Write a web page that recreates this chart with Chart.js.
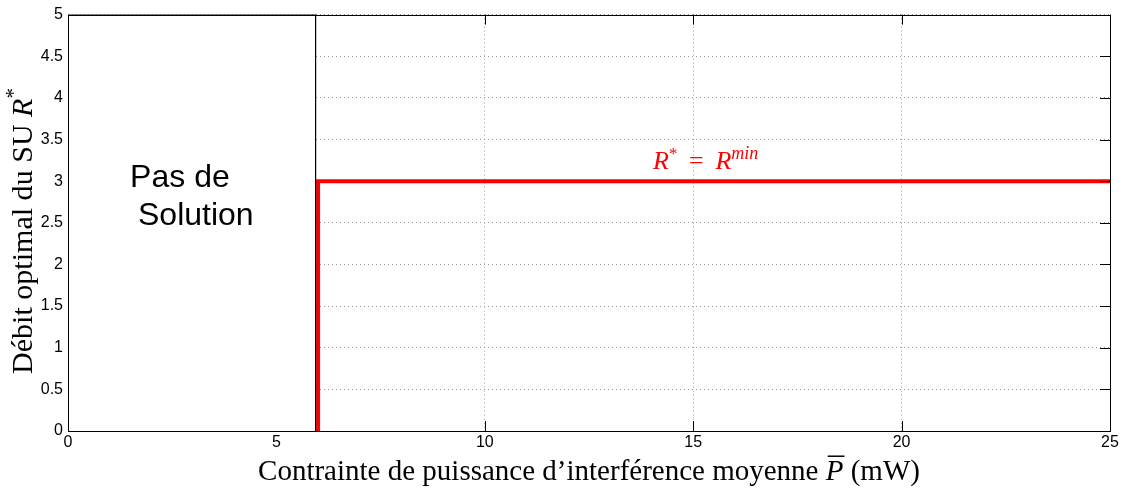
<!DOCTYPE html>
<html>
<head>
<meta charset="utf-8">
<script src="https://cdn.jsdelivr.net/npm/chart.js@4/dist/chart.umd.min.js"></script>
<style>
  html, body { margin: 0; padding: 0; background: #fff; }
  #wrap { width: 1124px; height: 491px; }
</style>
</head>
<body>
<div id="wrap"><canvas id="chart" width="1124" height="491"></canvas></div>
<script>
// values
const xTicks = [0, 5, 10, 15, 20, 25];
const yTicks = [0, 0.5, 1, 1.5, 2, 2.5, 3, 3.5, 4, 4.5, 5];
const stepX = [6, 6, 25];          // optimal rate R*
const stepY = [0, 3, 3];
const blankX = [0, 5.94, 5.94];    // "no solution" zone, edge drawn black
const blankY = [5, 5, 0];

const SERIF = '"Liberation Serif", "DejaVu Serif", serif';
const SANS = '"Liberation Sans", Arial, sans-serif';

function runsWidth(ctx, runs, k) {
    let w = 0;
    runs.forEach(r => {
        ctx.font = (r.italic ? "italic " : "") + (r.size * k) + "px " + SERIF;
        w += ctx.measureText(r.text).width;
    });
    return w;
}

// draws a row of text pieces (italic / superscript) centred on x
function drawRuns(ctx, runs, x, y, k, color) {
    let cx = x - runsWidth(ctx, runs, k) / 2;
    ctx.fillStyle = color;
    ctx.textBaseline = "alphabetic";
    ctx.textAlign = "left";
    runs.forEach(r => {
        ctx.font = (r.italic ? "italic " : "") + (r.size * k) + "px " + SERIF;
        const w = ctx.measureText(r.text).width;
        ctx.fillText(r.text, cx, y + (r.dy || 0) * k);
        if (r.overline) {
            ctx.strokeStyle = color;
            ctx.lineWidth = 1.5;
            ctx.beginPath();
            ctx.moveTo(cx + 2, y - r.size * k * 0.82);
            ctx.lineTo(cx + w + 1, y - r.size * k * 0.82);
            ctx.stroke();
        }
        cx += w;
    });
}

const decorations = {
    id: "decorations",
    afterDraw(chart) {
        const ctx = chart.ctx;
        const a = chart.chartArea;
        const xs = chart.scales.x, ys = chart.scales.y;
        const edge = xs.getPixelForValue(blankX[1]);
        ctx.save();

        // axes box
        ctx.strokeStyle = "#000";
        ctx.lineWidth = 1;
        ctx.strokeRect(Math.round(a.left) + 0.5, Math.round(a.top) + 0.5,
            Math.round(a.right - a.left), Math.round(a.bottom - a.top));

        // inward tick marks like matlab, hidden under the blank zone
        const tl = 10;
        ctx.beginPath();
        xTicks.forEach(v => {
            const px = Math.round(xs.getPixelForValue(v)) + 0.5;
            if (px <= edge) return;
            ctx.moveTo(px, a.bottom); ctx.lineTo(px, a.bottom - tl);
            ctx.moveTo(px, a.top); ctx.lineTo(px, a.top + tl);
        });
        yTicks.forEach(v => {
            const py = Math.round(ys.getPixelForValue(v)) + 0.5;
            ctx.moveTo(a.right, py); ctx.lineTo(a.right - tl, py);
        });
        ctx.stroke();

        // "Pas de Solution"
        ctx.fillStyle = "#000";
        ctx.font = "32px " + SANS;
        ctx.textAlign = "left";
        ctx.textBaseline = "alphabetic";
        ctx.fillText("Pas de", xs.getPixelForValue(1.49), 187);
        ctx.fillText("Solution", xs.getPixelForValue(1.68), 225);

        // R* = R^min
        const lab = [
            { text: "R", italic: true, size: 26 },
            { text: "*", size: 17, dy: -10 },
            { text: " \u2009= \u2009", size: 26 },
            { text: "R", italic: true, size: 26 },
            { text: "min", italic: true, size: 18, dy: -10 }
        ];
        drawRuns(ctx, lab, xs.getPixelForValue(15.3), ys.getPixelForValue(3.15), 1, "#ff0000");

        // x title
        const xt = [
            { text: "Contrainte de puissance d\u2019interf\u00e9rence moyenne ", size: 20 },
            { text: "P", italic: true, size: 20, overline: true },
            { text: " (mW)", size: 20 }
        ];
        const kx = 662 / runsWidth(ctx, xt, 1);
        drawRuns(ctx, xt, (a.left + a.right) / 2, 480, kx, "#000");

        // y title
        const yt = [
            { text: "D\u00e9bit optimal du SU ", size: 20 },
            { text: "R", italic: true, size: 20 },
            { text: "*", size: 14, dy: -8 }
        ];
        const ky = 286 / runsWidth(ctx, yt, 1);
        ctx.translate(32, 231);
        ctx.rotate(-Math.PI / 2);
        drawRuns(ctx, yt, 0, 0, ky, "#000");

        ctx.restore();
    }
};

const ctx = document.getElementById("chart").getContext("2d");
new Chart(ctx, {
    type: "line",
    data: {
        datasets: [
            {
                label: "pas de solution",
                data: blankX.map((x, i) => ({ x: x, y: blankY[i] })),
                borderColor: "#000",
                backgroundColor: "#fff",
                borderWidth: 1,
                pointRadius: 0,
                fill: "origin"
            },
            {
                label: "R*",
                data: stepX.map((x, i) => ({ x: x, y: stepY[i] })),
                borderColor: "#ff0000",
                borderWidth: 4,
                pointRadius: 0,
                borderJoinStyle: "miter",
                fill: false
            }
        ]
    },
    options: {
        responsive: false,
        animation: false,
        layout: { padding: { left: 0, top: 12, right: 14, bottom: 0 } },
        plugins: { legend: { display: false }, tooltip: { enabled: false } },
        scales: {
            x: {
                type: "linear",
                min: 0, max: 25,
                afterBuildTicks: s => { s.ticks = xTicks.map(v => ({ value: v })); },
                afterFit: s => { s.height = 60; },
                ticks: { color: "#000", font: { family: SANS, size: 16 }, padding: 2, maxRotation: 0 },
                grid: { color: "#9a9a9a", lineWidth: 1, drawTicks: false },
                border: { display: false, dash: [1, 3] }
            },
            y: {
                min: 0, max: 5,
                afterBuildTicks: s => { s.ticks = yTicks.map(v => ({ value: v })); },
                afterFit: s => { s.width = 68; },
                ticks: { color: "#000", font: { family: SANS, size: 16 }, padding: 5, callback: v => String(v) },
                grid: { color: "#9a9a9a", lineWidth: 1, drawTicks: false },
                border: { display: false, dash: [1, 3] }
            }
        }
    },
    plugins: [decorations]
});
</script>
</body>
</html>
